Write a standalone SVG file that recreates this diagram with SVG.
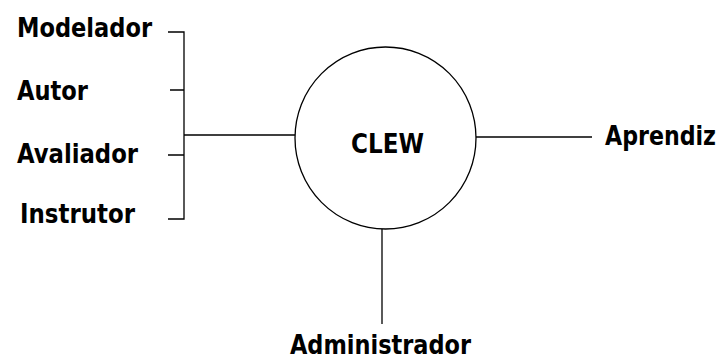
<svg xmlns="http://www.w3.org/2000/svg" width="723" height="361" viewBox="0 0 723 361">
<style>
.t{font-family:"DejaVu Sans Condensed","DejaVu Sans",sans-serif;font-weight:bold;font-size:26px;fill:#000}
.l{stroke:#000;stroke-width:1.3;fill:none}
</style>
<rect width="723" height="361" fill="#fff"/>
<g id="connectors">
<path class="l" d="M168 32H184V219H168M170 90H184M168 155H184M184 135H295"/>
<path class="l" d="M476 137H592"/>
<path class="l" d="M382 229V324"/>
</g>
<g id="clew">
<ellipse class="l" cx="385.5" cy="138" rx="90.5" ry="91"/>
<text class="t" x="351" y="153" textLength="73" lengthAdjust="spacingAndGlyphs">CLEW</text>
</g>
<g id="modelador"><text class="t" x="17" y="37" textLength="135" lengthAdjust="spacingAndGlyphs">Modelador</text></g>
<g id="autor"><text class="t" x="17" y="100" textLength="71" lengthAdjust="spacingAndGlyphs">Autor</text></g>
<g id="avaliador"><text class="t" x="17" y="163" textLength="121" lengthAdjust="spacingAndGlyphs">Avaliador</text></g>
<g id="instrutor"><text class="t" x="20" y="223" textLength="115" lengthAdjust="spacingAndGlyphs">Instrutor</text></g>
<g id="aprendiz"><text class="t" x="605" y="145" textLength="111" lengthAdjust="spacingAndGlyphs">Aprendiz</text></g>
<g id="administrador"><text class="t" x="290" y="354" textLength="181" lengthAdjust="spacingAndGlyphs">Administrador</text></g>
</svg>
